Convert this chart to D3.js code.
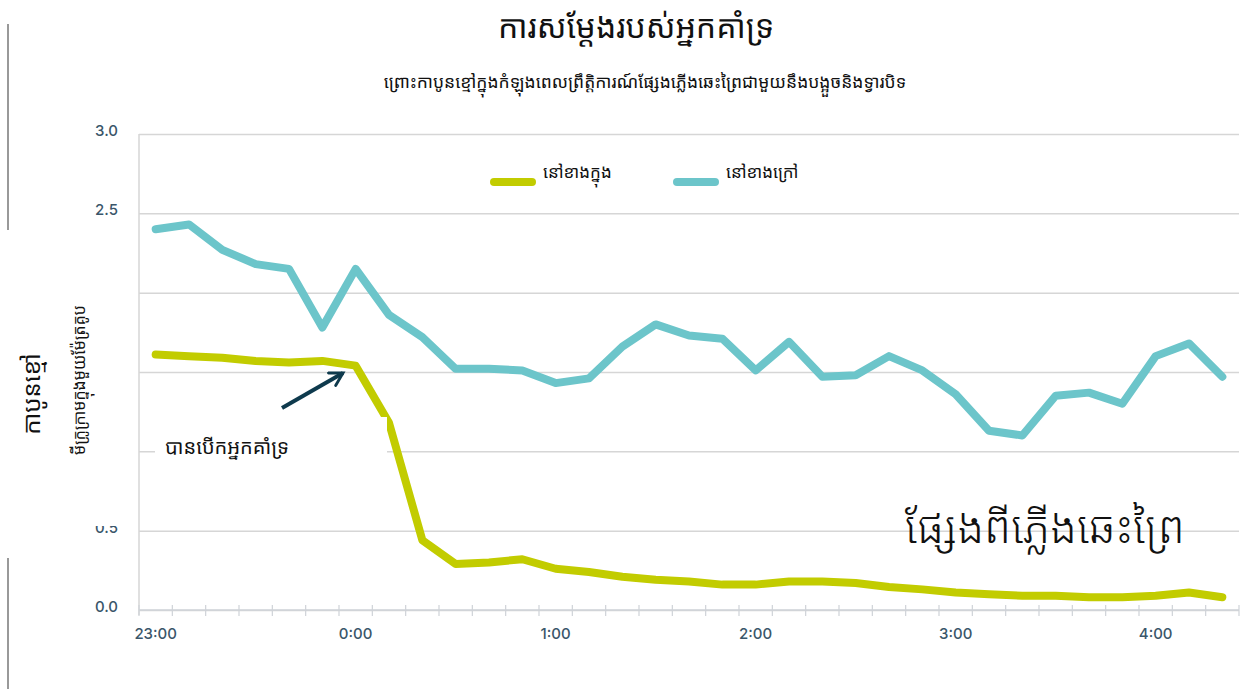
<!DOCTYPE html>
<html lang="km">
<head>
<meta charset="utf-8">
<title>ការសម្តែងរបស់អ្នកគាំទ្រ</title>
<script src="https://cdn.jsdelivr.net/npm/d3@7"></script>
<style>
  body { margin: 0; background: #fff; }
  svg { display: block; font-family: "Noto Sans Khmer", "Khmer OS", "Khmer OS System", "Noto Sans", sans-serif; }
  .tick-label { font-family: Inter, "Noto Sans", sans-serif; font-weight: 500; fill: #3a566a; font-size: 15px; }
</style>
</head>
<body>
<svg id="chart" width="1241" height="689"></svg>
<script>
// time slots, every 10 minutes from 23:00
const times = ["23:00","23:10","23:20","23:30","23:40","23:50",
  "0:00","0:10","0:20","0:30","0:40","0:50",
  "1:00","1:10","1:20","1:30","1:40","1:50",
  "2:00","2:10","2:20","2:30","2:40","2:50",
  "3:00","3:10","3:20","3:30","3:40","3:50",
  "4:00","4:10","4:20"];
const hourLabels = ["23:00","0:00","1:00","2:00","3:00","4:00"];

// black carbon, micrograms per cubic metre
const inside = [1.61,1.60,1.59,1.57,1.56,1.57,1.54,1.18,0.44,0.29,0.30,0.32,
  0.26,0.24,0.21,0.19,0.18,0.16,0.16,0.18,0.18,0.17,0.145,0.13,
  0.11,0.10,0.09,0.09,0.08,0.08,0.09,0.11,0.08];
const outside = [2.40,2.43,2.27,2.18,2.15,1.78,2.15,1.86,1.72,1.52,1.52,1.51,
  1.43,1.46,1.66,1.80,1.73,1.71,1.51,1.69,1.47,1.48,1.60,1.51,
  1.36,1.13,1.10,1.35,1.37,1.30,1.60,1.68,1.47];

const yTicks = [0, 0.5, 1.0, 1.5, 2.0, 2.5, 3.0];
const seriesNames = ["នៅខាងក្នុង", "នៅខាងក្រៅ"];
const seriesColors = ["#c2cc00", "#6cc5ca"];

const svg = d3.select("#chart");
const pLeft = 139, pRight = 1239, pTop = 134, pBottom = 610;

const x = d3.scaleBand().domain(times).range([pLeft, pRight]).padding(0);
const y = d3.scaleLinear().domain([0, 3]).range([pBottom, pTop]);
const cx = d => x(d) + x.bandwidth() / 2;

// gridlines + y labels
const grid = svg.append("g")
  .attr("transform", `translate(${pLeft},0)`)
  .call(d3.axisLeft(y).tickValues(yTicks).tickFormat(d3.format(".1f"))
    .tickSize(-(pRight - pLeft)).tickPadding(21));
grid.select(".domain").remove();
grid.selectAll(".tick line").attr("stroke", "#d6d6d6").attr("stroke-width", 1.5);
grid.selectAll(".tick text").attr("class", "tick-label").attr("dy", "0.1em");

// left axis line
svg.append("line").attr("x1", pLeft).attr("x2", pLeft).attr("y1", pTop).attr("y2", pBottom + 5)
  .attr("stroke", "#d6d6d6").attr("stroke-width", 1.5);

// x axis: boundary ticks and hour labels at band centres
const xa = svg.append("g").attr("transform", `translate(0,${pBottom})`);
xa.append("line").attr("x1", pLeft).attr("x2", pRight).attr("stroke", "#cfd3d8").attr("stroke-width", 1.5);
xa.selectAll("line.b").data(times.concat(["end"])).join("line")
  .attr("class", "b")
  .attr("x1", d => d === "end" ? pRight : x(d))
  .attr("x2", d => d === "end" ? pRight : x(d))
  .attr("y1", -5).attr("y2", 6)
  .attr("stroke", "#cfd3d8").attr("stroke-width", 1.2);
xa.selectAll("text").data(hourLabels).join("text")
  .attr("class", "tick-label")
  .attr("x", cx).attr("y", 29)
  .attr("text-anchor", "middle")
  .text(d => d);

// lines
const line = d3.line().x((d, i) => cx(times[i])).y(d => y(d));
[inside, outside].forEach((s, k) => {
  svg.append("path").datum(s)
    .attr("d", line)
    .attr("fill", "none")
    .attr("stroke", seriesColors[k])
    .attr("stroke-width", 8)
    .attr("stroke-linejoin", "round")
    .attr("stroke-linecap", "round");
});

// legend
const legX = [494, 677];
seriesNames.forEach((n, k) => {
  svg.append("line").attr("x1", legX[k]).attr("x2", legX[k] + 38)
    .attr("y1", 182).attr("y2", 182)
    .attr("stroke", seriesColors[k]).attr("stroke-width", 8).attr("stroke-linecap", "round");
  svg.append("text").attr("x", legX[k] + 49).attr("y", 178)
    .attr("font-size", 17).attr("fill", "#111").text(n);
});

// annotation: fans on
svg.append("rect").attr("x", 155).attr("y", 417).attr("width", 232).attr("height", 58).attr("fill", "#fff");
svg.append("text").attr("x", 165).attr("y", 454).attr("font-size", 20).attr("fill", "#111")
  .text("បានបើកអ្នកគាំទ្រ");
svg.append("defs").append("marker")
  .attr("id", "ah").attr("viewBox", "0 0 10 10").attr("refX", 8).attr("refY", 5)
  .attr("markerWidth", 4.5).attr("markerHeight", 4.5).attr("orient", "auto")
  .append("path").attr("d", "M1,1 L8,5 L1,9").attr("fill", "none")
  .attr("stroke", "#0e3a4d").attr("stroke-width", 1.6).attr("stroke-linecap", "round");
svg.append("line").attr("x1", 282).attr("y1", 408).attr("x2", 343).attr("y2", 373)
  .attr("stroke", "#0e3a4d").attr("stroke-width", 4).attr("marker-end", "url(#ah)");

// annotation: wildfire smoke
svg.append("text").attr("x", 1045).attr("y", 543).attr("text-anchor", "middle")
  .attr("font-size", 44).attr("font-weight", 300).attr("fill", "#111").text("ផ្សែងពីភ្លើងឆេះព្រៃ");

// white panel behind the y titles
svg.append("rect").attr("x", 48).attr("y", 232).attr("width", 89).attr("height", 294).attr("fill", "#fff");
svg.append("line").attr("x1", 8).attr("x2", 8).attr("y1", 24).attr("y2", 230).attr("stroke", "#555").attr("stroke-width", 1.2);
svg.append("line").attr("x1", 8).attr("x2", 8).attr("y1", 558).attr("y2", 689).attr("stroke", "#555").attr("stroke-width", 1.2);

svg.append("text").attr("transform", "translate(40,394) rotate(-90)")
  .attr("text-anchor", "middle").attr("font-size", 24).attr("fill", "#111").text("កាបូនខ្មៅ");
svg.append("text").attr("transform", "translate(85,380) rotate(-90)")
  .attr("text-anchor", "middle").attr("font-size", 16).attr("fill", "#111").text("មីក្រូក្រាមក្នុងមួយម៉ែត្រគូប");

// titles
svg.append("text").attr("x", 636).attr("y", 38).attr("text-anchor", "middle")
  .attr("font-size", 32).attr("fill", "#111").text("ការសម្តែងរបស់អ្នកគាំទ្រ");
svg.append("text").attr("x", 645).attr("y", 88).attr("text-anchor", "middle")
  .attr("font-size", 17.5).attr("fill", "#111")
  .text("ព្រោះកាបូនខ្មៅក្នុងកំឡុងពេលព្រឹត្តិការណ៍ផ្សែងភ្លើងឆេះព្រៃជាមួយនឹងបង្អួចនិងទ្វារបិទ");
</script>
</body>
</html>
